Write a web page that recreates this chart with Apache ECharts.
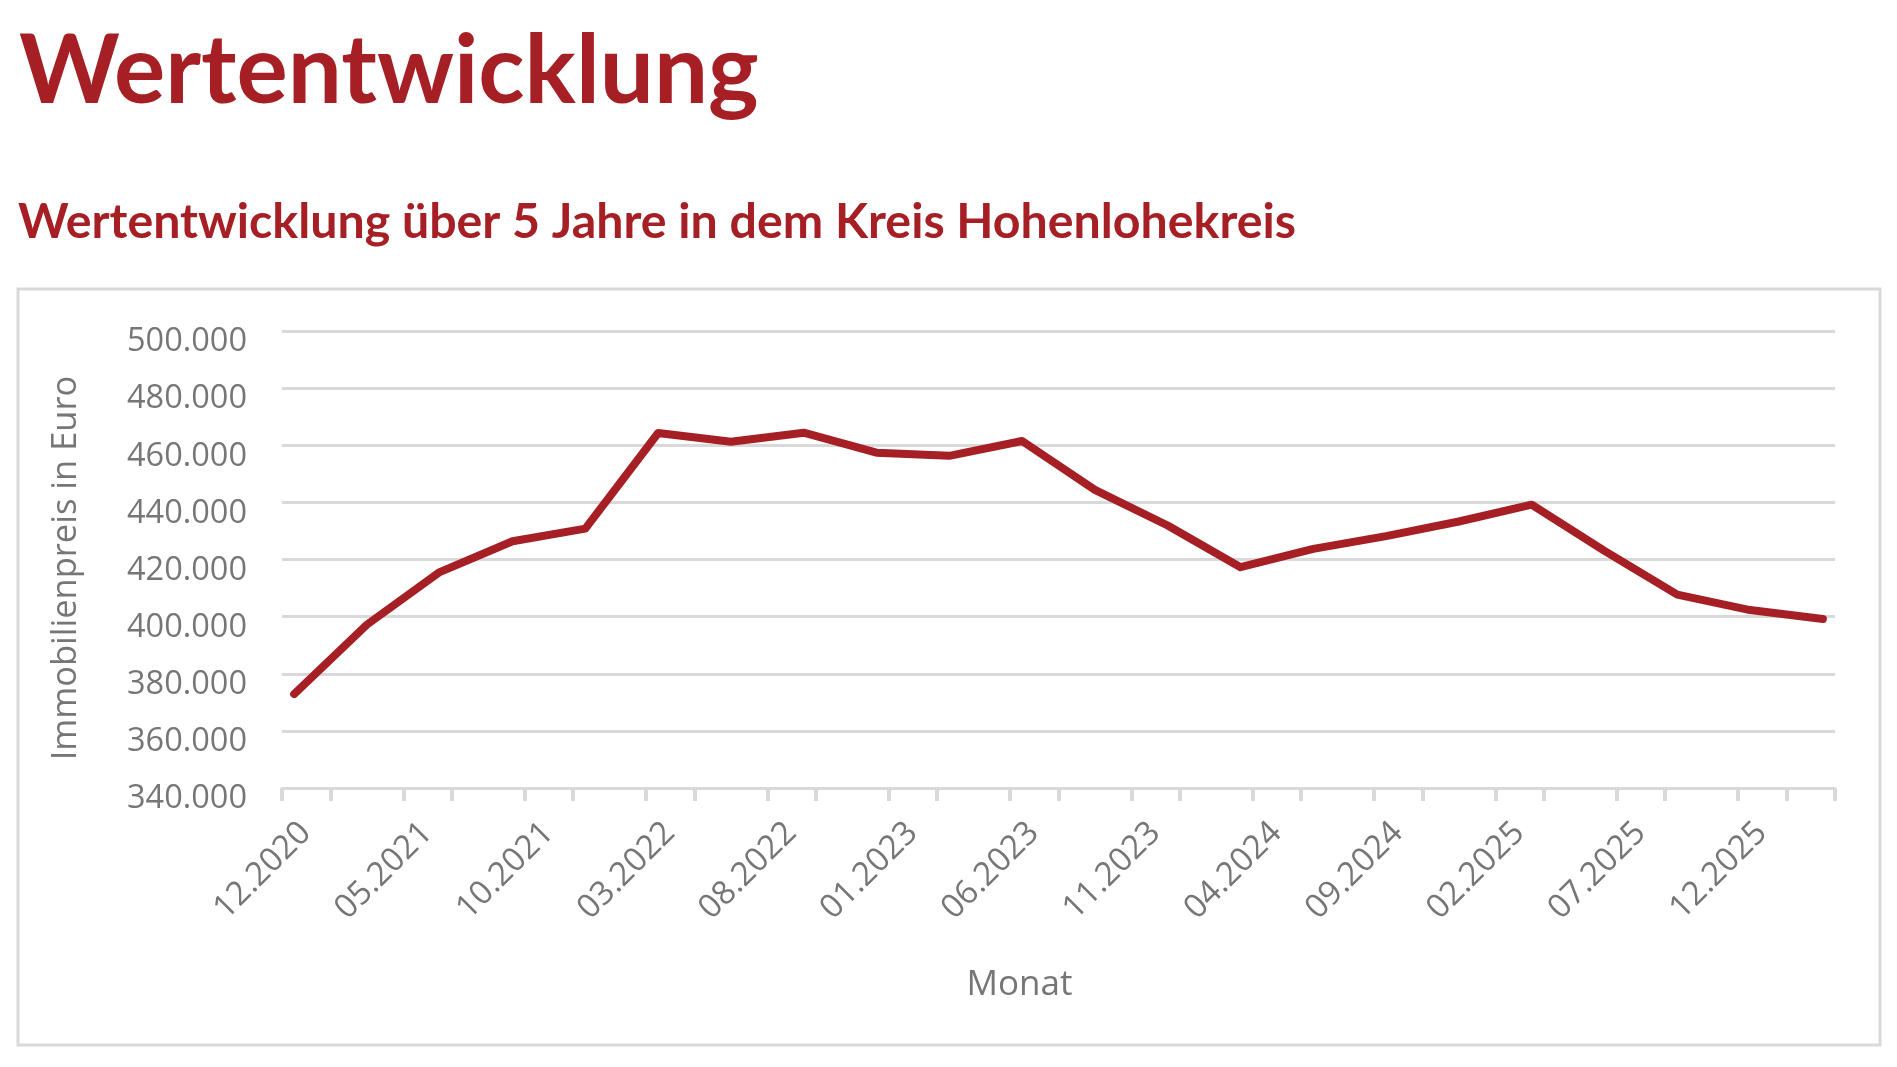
<!DOCTYPE html>
<html>
<head>
<meta charset="utf-8">
<title>Wertentwicklung</title>
<script src="https://cdn.jsdelivr.net/npm/echarts@6/dist/echarts.min.js"></script>
<style>
  html, body { margin: 0; padding: 0; background: #fff; }
  #chart { width: 1897px; height: 1067px; }
</style>
</head>
<body>
<div id="chart"></div>
<script>
// Monatsachse (Kategorien), 12.2020 bis 03.2026
const months = [
    '12.2020',
    '01.2021', '02.2021', '03.2021', '04.2021', '05.2021', '06.2021', '07.2021', '08.2021', '09.2021', '10.2021', '11.2021', '12.2021',
    '01.2022', '02.2022', '03.2022', '04.2022', '05.2022', '06.2022', '07.2022', '08.2022', '09.2022', '10.2022', '11.2022', '12.2022',
    '01.2023', '02.2023', '03.2023', '04.2023', '05.2023', '06.2023', '07.2023', '08.2023', '09.2023', '10.2023', '11.2023', '12.2023',
    '01.2024', '02.2024', '03.2024', '04.2024', '05.2024', '06.2024', '07.2024', '08.2024', '09.2024', '10.2024', '11.2024', '12.2024',
    '01.2025', '02.2025', '03.2025', '04.2025', '05.2025', '06.2025', '07.2025', '08.2025', '09.2025', '10.2025', '11.2025', '12.2025',
    '01.2026', '02.2026', '03.2026',
];

// Messpunkte (vierteljährlich)
const dates = [
    '12.2020', '03.2021', '06.2021', '09.2021', '12.2021', '03.2022', '06.2022', '09.2022',
    '12.2022', '03.2023', '06.2023', '09.2023', '12.2023', '03.2024', '06.2024', '09.2024',
    '12.2024', '03.2025', '06.2025', '09.2025', '12.2025', '03.2026',
];
const prices = [
    372900, 397200, 415600, 426400, 430800, 464300, 461200, 464400,
    457400, 456300, 461500, 444400, 431900, 417300, 423700, 428200,
    433300, 439200, 423000, 407700, 402300, 399200,
];

const yTicks = [340000, 360000, 380000, 400000, 420000, 440000, 460000, 480000, 500000];

const red = '#A51F24';
const grey = '#767676';
const lightGrey = '#d9d9d9';
const font = '"Open Sans", sans-serif';

const fmt = (v) => String(v).replace(/\B(?=(\d{3})+(?!\d))/g, '.');

const myChart = echarts.init(document.getElementById('chart'));

const option = {
    backgroundColor: '#fff',
    animation: false,
    title: [
        {
            text: 'Wertentwicklung',
            left: 14,
            top: 19,
            textStyle: { color: red, fontFamily: 'Lato', fontWeight: 'bold', fontSize: 96 },
        },
        {
            text: 'Wertentwicklung über 5 Jahre in dem Kreis Hohenlohekreis',
            left: 13,
            top: 193,
            textStyle: { color: red, fontFamily: 'Lato', fontWeight: 'bold', fontSize: 48.3 },
        },
    ],
    graphic: [
        {
            type: 'rect',
            shape: { x: 18, y: 289, width: 1862, height: 756 },
            style: { fill: null, stroke: lightGrey, lineWidth: 3 },
            silent: true,
        },
    ],
    grid: {
        left: 282,
        right: 62,
        top: 331,
        bottom: 279,
    },
    xAxis: {
        type: 'category',
        data: months,
        boundaryGap: true,
        name: 'Monat',
        nameLocation: 'middle',
        nameGap: 180,
        nameTextStyle: { color: grey, fontFamily: font, fontSize: 35, padding: [0, 78, 0, 0] },
        axisLine: { lineStyle: { color: lightGrey, width: 3 } },
        axisTick: {
            show: true,
            alignWithLabel: false,
            length: 13,
            interval: (i) => i % 5 === 0 || i % 5 === 2,
            lineStyle: { color: lightGrey, width: 4 },
        },
        axisLabel: {
            interval: 4,
            rotate: 45,
            margin: 28,
            verticalAlign: 'top',
            color: grey,
            fontFamily: font,
            fontSize: 33,
        },
        splitLine: { show: false },
    },
    yAxis: {
        type: 'value',
        min: yTicks[0],
        max: yTicks[yTicks.length - 1],
        interval: yTicks[1] - yTicks[0],
        name: 'Immobilienpreis in Euro',
        nameLocation: 'middle',
        nameGap: 198,
        nameTextStyle: { color: grey, fontFamily: font, fontSize: 34.5, padding: [0, 17, 0, 0] },
        axisLine: { show: false },
        axisTick: { show: false },
        axisLabel: {
            margin: 35,
            verticalAlign: 'top',
            lineHeight: 22,
            color: grey,
            fontFamily: font,
            fontSize: 32.5,
            formatter: fmt,
        },
        splitLine: { lineStyle: { color: lightGrey, width: 3 } },
    },
    series: [
        {
            type: 'line',
            data: dates.map((d, i) => [d, prices[i]]),
            showSymbol: false,
            symbol: 'none',
            lineStyle: { color: red, width: 8, join: 'round', cap: 'round' },
            itemStyle: { color: red },
        },
    ],
};
myChart.setOption(option);
</script>
</body>
</html>
